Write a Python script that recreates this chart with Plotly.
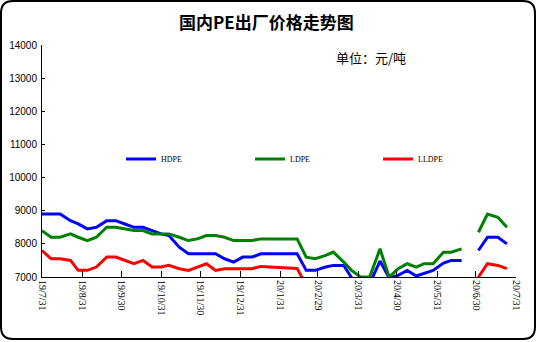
import plotly.graph_objects as go

dates = ["2019-07-31","2019-08-07","2019-08-14","2019-08-22","2019-08-28","2019-09-04","2019-09-11","2019-09-19","2019-09-26","2019-10-03",
         "2019-10-10","2019-10-17","2019-10-24","2019-10-31","2019-11-06","2019-11-14","2019-11-21","2019-11-28","2019-12-05","2019-12-12",
         "2019-12-19","2019-12-26","2020-01-02","2020-01-09","2020-01-16","2020-01-23","2020-01-31","2020-02-06","2020-02-13","2020-02-20",
         "2020-02-27","2020-03-06","2020-03-12","2020-03-20","2020-03-26","2020-04-02","2020-04-09","2020-04-17","2020-04-24","2020-05-01",
         "2020-05-08","2020-05-15","2020-05-21","2020-05-28","2020-06-05","2020-06-11","2020-06-19","2020-06-26","2020-07-02","2020-07-09",
         "2020-07-17","2020-07-24"]

hdpe = [8900,8900,8900,8700,8600,8450,8500,8700,8700,8600,
        8500,8500,8400,8300,8250,7900,7700,7700,7700,7700,
        7550,7450,7600,7600,7700,7700,7700,7700,7700,7200,
        7200,7300,7350,7350,6980,6800,6800,7480,6980,7050,
        7200,7030,7100,7200,7420,7500,7500,None,7800,8200,
        8200,8000]
ldpe = [8400,8200,8200,8300,8200,8100,8200,8500,8500,8450,
        8400,8400,8300,8300,8300,8200,8100,8150,8250,8250,
        8200,8100,8100,8100,8150,8150,8150,8150,8150,7600,
        7550,7650,7750,7450,7200,7000,7000,7850,7000,7250,
        7400,7300,7400,7400,7750,7750,7850,None,8350,8900,
        8800,8500]
lldpe = [7800,7550,7550,7500,7200,7200,7300,7600,7600,7500,
         7400,7500,7300,7300,7350,7250,7200,7300,7400,7200,
         7250,7250,7250,7250,7320,7300,7280,7270,7260,6750,
         6700,6800,6800,6700,6500,6400,6400,6800,6500,6600,
         6700,6600,6650,6700,6800,6850,6850,None,7000,7400,
         7350,7250]

series_names = ["HDPE", "LDPE", "LLDPE"]
series_colors = ["#0000FF", "#008000", "#FF0000"]

tick_dates = ["2019-07-31","2019-08-31","2019-09-30","2019-10-31","2019-11-30","2019-12-31",
              "2020-01-31","2020-02-29","2020-03-31","2020-04-30","2020-05-31","2020-06-30","2020-07-31"]
tick_labels = ["19/7/31","19/8/31","19/9/30","19/10/31","19/11/30","19/12/31",
               "20/1/31","20/2/29","20/3/31","20/4/30","20/5/31","20/6/30","20/7/31"]
y_ticks = [7000, 8000, 9000, 10000, 11000, 12000, 13000, 14000]
y_tick_labels = [str(v) for v in y_ticks]

title_text = "国内PE出厂价格走势图"
unit_text = "单位：元/吨"

W, H = 538, 342
L, R, T, B = 42, 22, 45, 65
PW, PH = W - L - R, H - T - B

def px(x):
    return (x - L) / PW

def py(y):
    return (T + PH - y) / PH

legend_ids = ["legend", "legend2", "legend3"]
legend_x = [121, 250, 378]

fig = go.Figure()
for name, vals, col, lid in zip(series_names, [hdpe, ldpe, lldpe], series_colors, legend_ids):
    fig.add_trace(go.Scatter(x=dates, y=vals, name=name, mode="lines", legend=lid,
                             line=dict(color=col, width=3), connectgaps=False))

# rounded chart border
l0, r0, t0, b0, rr = 1, 535, 1, 339, 12
path = (f"M {px(l0+rr)},{py(t0)} L {px(r0-rr)},{py(t0)} Q {px(r0)},{py(t0)} {px(r0)},{py(t0+rr)} "
        f"L {px(r0)},{py(b0-rr)} Q {px(r0)},{py(b0)} {px(r0-rr)},{py(b0)} "
        f"L {px(l0+rr)},{py(b0)} Q {px(l0)},{py(b0)} {px(l0)},{py(b0-rr)} "
        f"L {px(l0)},{py(t0+rr)} Q {px(l0)},{py(t0)} {px(l0+rr)},{py(t0)} Z")
fig.add_shape(type="path", path=path, xref="paper", yref="paper",
              line=dict(color="#000000", width=2), layer="above")

fig.add_annotation(text=title_text, x=px(177), y=py(21), xref="paper", yref="paper",
                   showarrow=False, xanchor="left", yanchor="middle",
                   font=dict(family="Noto Sans CJK SC", size=17, color="#000000", weight="bold"))
fig.add_annotation(text=unit_text, x=px(334), y=py(57), xref="paper", yref="paper",
                   showarrow=False, xanchor="left", yanchor="middle",
                   font=dict(family="Noto Sans CJK SC", size=13, color="#000000"))

leg_common = dict(orientation="h", y=py(159), xanchor="left", yanchor="middle",
                  itemwidth=30, font=dict(family="Liberation Serif", size=8, color="#000000"),
                  bgcolor="rgba(0,0,0,0)")
legends = {lid: dict(x=px(lx), **leg_common) for lid, lx in zip(legend_ids, legend_x)}

fig.update_layout(
    width=W, height=H,
    margin=dict(l=L, r=R, t=T, b=B, autoexpand=False),
    paper_bgcolor="white", plot_bgcolor="white",
    showlegend=True,
    **legends,
    xaxis=dict(type="date", range=["2019-07-31", "2020-07-31"], automargin=False,
               tickmode="array", tickvals=tick_dates, ticktext=tick_labels,
               tickangle=90, ticks="inside", ticklen=6, tickcolor="#000000",
               showline=True, linecolor="#000000", linewidth=1, showgrid=False, zeroline=False,
               tickfont=dict(family="Liberation Serif", size=10, color="#000000")),
    yaxis=dict(range=[7000, 14000], tickmode="array", tickvals=y_ticks, ticktext=y_tick_labels,
               automargin=False,
               ticks="inside", ticklen=3, tickcolor="#000000",
               showline=True, linecolor="#000000", linewidth=1, showgrid=False, zeroline=False,
               tickfont=dict(family="Liberation Sans", size=10, color="#000000"),
               ticklabelstandoff=2),
)

fig.write_html("out.html")
